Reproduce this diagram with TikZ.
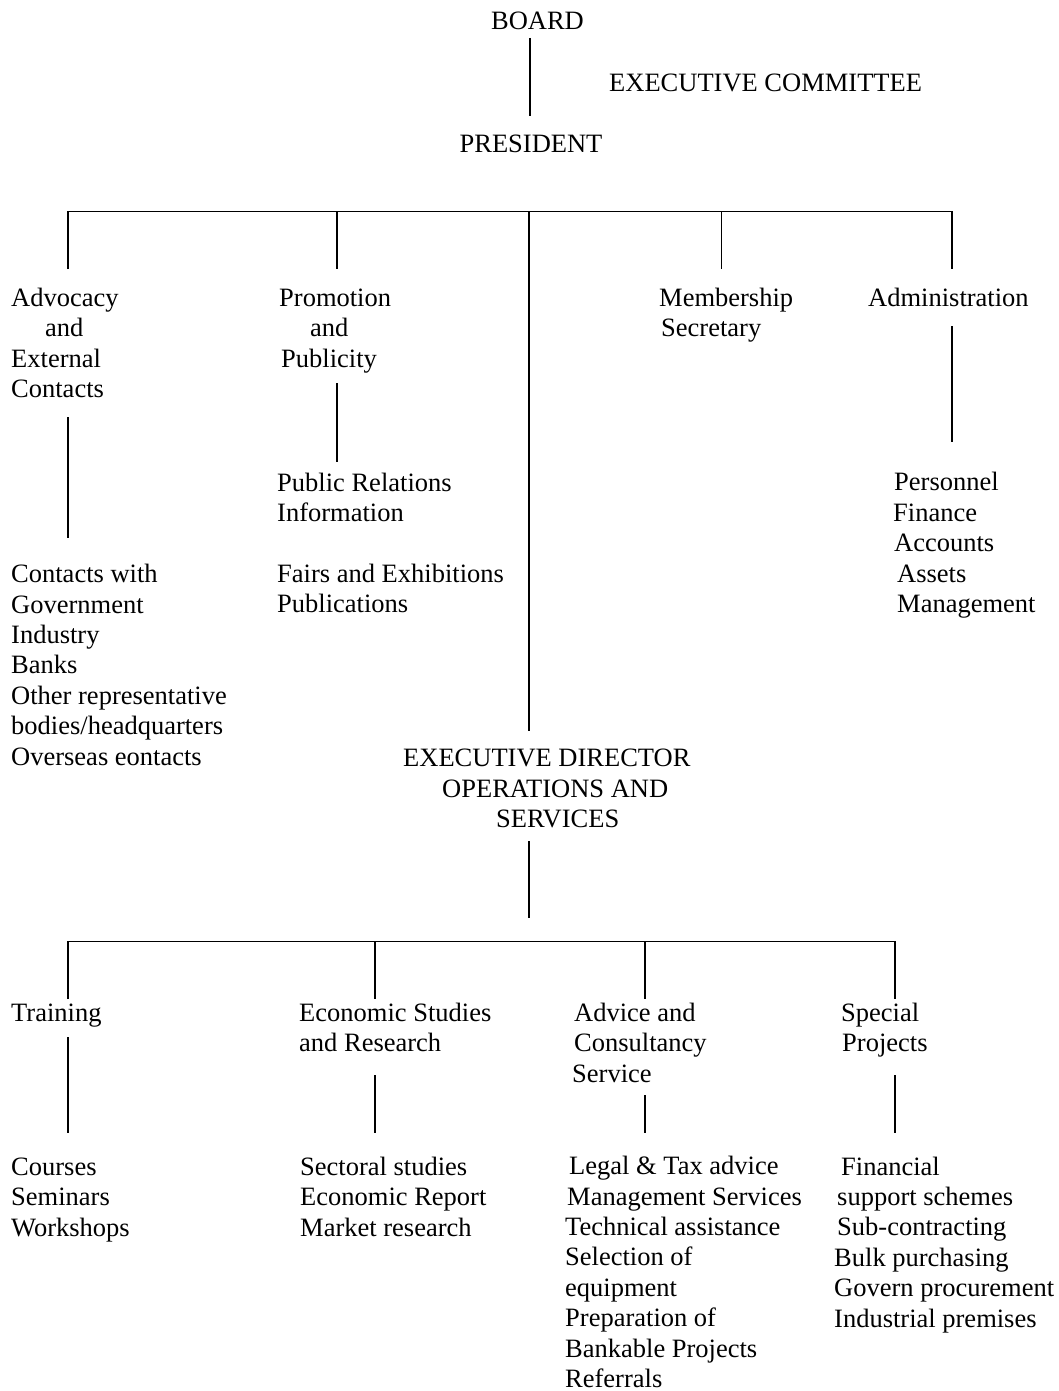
\documentclass[tikz,border=0pt]{standalone}
\usepackage{fontspec}
\setmainfont{Liberation Serif}
\newcommand\chartfont{\fontsize{26.5}{30.4}\selectfont}

\begin{document}
\begin{tikzpicture}[x=1pt,y=-1pt,
    unit/.style={anchor=base west,inner sep=0pt,align=left,font=\chartfont},
    title/.style={anchor=base,inner sep=0pt,font=\chartfont},
    link/.style={line width=1.4pt}]
    \useasboundingbox (0,0) rectangle (1059,1391);

    % top of the chart
    \node [title] (board) at (537.5,30) {BOARD};
    \node [title,anchor=base west] (excom) at (609,92) {EXECUTIVE COMMITTEE};
    \node [title] (pres) at (531,153) {PRESIDENT};
    \coordinate (board-a) at (530,38);
    \coordinate (board-b) at (530,116);
    \draw [link] (board-a) -- (board-b);

    % first level (nodes sit on the baseline of their last line)
    \node [unit] (adv) at (11,397.5) {Advocacy\\\hspace{34pt}and\\External\\Contacts};
    \node [unit] (promo) at (279,367) {Promotion\\\hspace{31pt}and\\\hspace{2pt}Publicity};
    \node [unit] (memb) at (659,336.5) {Membership\\\hspace{2pt}Secretary};
    \node [unit] (admin) at (868,306) {Administration};

    \foreach \n/\x in {adv/68,promo/337,memb/721.5,admin/952}
        \coordinate (\n-ft) at (\x,269);
    \coordinate (trunk-ft) at (529,731);
    \draw [link] (adv-ft) |- (admin-ft |- 0,211.5) -- (admin-ft);
    \foreach \n in {promo,memb,trunk}
        \draw [link] (adv-ft |- 0,211.5) -| (\n-ft);

    % second level
    \node [unit] (contacts) at (11,765) {Contacts with\\Government\\Industry\\Banks\\Other representative\\bodies/headquarters\\Overseas eontacts};
    \node [unit] (pubrel) at (277,521.5) {Public Relations\\Information};
    \node [unit] (fairs) at (277,612.5) {Fairs and Exhibitions\\Publications};
    \node [unit] (personnel) at (894,612.5) {Personnel\\\hspace{-1pt}Finance\\Accounts\\\hspace{3pt}Assets\\\hspace{3pt}Management};

    \foreach \n/\x/\ya/\yb in {adv/68/417/538,promo/337/383/461.5,admin/952/326/441.5}{%
        \coordinate (\n-a) at (\x,\ya);
        \coordinate (\n-b) at (\x,\yb);
        \draw [link] (\n-a) -- (\n-b);
    }

    % executive director
    \node [unit] (exec) at (403,827.5) {EXECUTIVE DIRECTOR\\\hspace{39pt}OPERATIONS AND\\\hspace{93pt}SERVICES};
    \coordinate (exec-a) at (529,841);
    \coordinate (exec-b) at (529,918);
    \draw [link] (exec-a) -- (exec-b);

    % operations and services
    \node [unit] (training) at (11,1021) {Training};
    \node [unit] (econ) at (299,1051.5) {Economic Studies\\and Research};
    \node [unit] (advice) at (572,1082) {\hspace{2pt}Advice and\\\hspace{2pt}Consultancy\\Service};
    \node [unit] (special) at (841,1051.5) {Special\\\hspace{1pt}Projects};

    \foreach \n/\x in {training/68,econ/375,advice/645,special/895}
        \coordinate (\n-ft) at (\x,999);
    \draw [link] (training-ft) |- (special-ft |- 0,941.5) -- (special-ft);
    \foreach \n in {econ,advice}
        \draw [link] (training-ft |- 0,941.5) -| (\n-ft);

    \foreach \n/\x/\ya in {training/68/1037,econ/375/1075,advice/645/1095,special/895/1075}{%
        \coordinate (\n-a) at (\x,\ya);
        \coordinate (\n-b) at (\x,1133);
        \draw [link] (\n-a) -- (\n-b);
    }

    \node [unit] (courses) at (11,1236) {Courses\\Seminars\\Workshops};
    \node [unit] (sectoral) at (300,1236) {Sectoral studies\\Economic Report\\Market research};
    \node [unit] (legal) at (565,1387.5) {\hspace{4pt}Legal \& Tax advice\\\hspace{2pt}Management Services\\Technical assistance\\Selection of\\equipment\\Preparation of\\Bankable Projects\\Referrals};
    \node [unit] (financial) at (834,1327) {\hspace{7pt}Financial\\\hspace{3pt}support schemes\\\hspace{3pt}Sub-contracting\\Bulk purchasing\\Govern procurement\\Industrial premises};
\end{tikzpicture}
\end{document}
